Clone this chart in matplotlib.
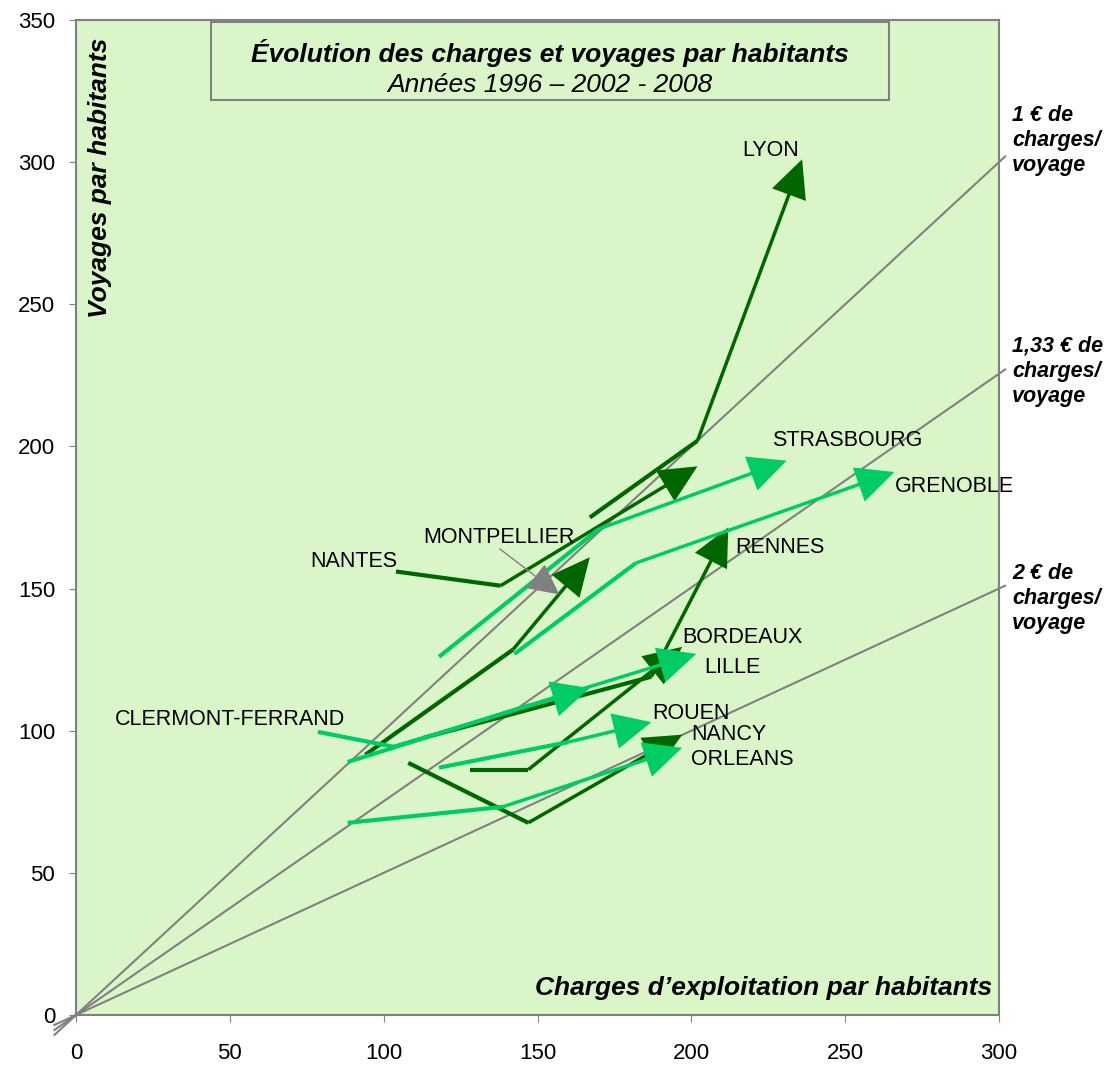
import matplotlib
matplotlib.use("Agg")
import matplotlib.pyplot as plt
from matplotlib.patches import Rectangle

plt.rcParams['font.family'] = ['Liberation Sans', 'DejaVu Sans']

# ---- data: (charges per inhabitant, trips per inhabitant) for 1996, 2002, 2008
cities = ["LYON", "NANTES", "MONTPELLIER", "RENNES", "BORDEAUX", "NANCY",
          "STRASBOURG", "GRENOBLE", "CLERMONT-FERRAND", "LILLE", "ROUEN", "ORLEANS"]
charges = {
    "LYON": [167, 202, 236],
    "NANTES": [104, 138, 202],
    "MONTPELLIER": [94, 142, 167],
    "RENNES": [113, 187, 212],
    "BORDEAUX": [128, 147, 197],
    "NANCY": [108, 147, 197],
    "STRASBOURG": [118, 170, 231],
    "GRENOBLE": [142.5, 182, 266],
    "CLERMONT-FERRAND": [78.6, 103, 167],
    "LILLE": [88.3, 147.4, 201.6],
    "ROUEN": [118, 160, 187],
    "ORLEANS": [88.3, 138.6, 197],
}
voyages = {
    "LYON": [175, 202, 301],
    "NANTES": [156, 151, 193],
    "MONTPELLIER": [91.5, 128.5, 161],
    "RENNES": [97.5, 119, 171.5],
    "BORDEAUX": [86.3, 86.3, 129.5],
    "NANCY": [88.7, 67.6, 98.6],
    "STRASBOURG": [126, 171, 195],
    "GRENOBLE": [127, 159, 191],
    "CLERMONT-FERRAND": [99.6, 94.4, 115],
    "LILLE": [89, 109, 127],
    "ROUEN": [87, 96, 103],
    "ORLEANS": [67.6, 73.2, 94],
}
dark_cities = ["LYON", "NANTES", "MONTPELLIER", "RENNES", "BORDEAUX", "NANCY"]
label_pos = {
    "LYON": (216.6, 304),
    "STRASBOURG": (226.3, 202),
    "GRENOBLE": (266.2, 186),
    "RENNES": (214.3, 164.4),
    "NANTES": (76.3, 159.5),
    "MONTPELLIER": (113, 168),
    "BORDEAUX": (197.1, 132.7),
    "LILLE": (204.2, 122.2),
    "CLERMONT-FERRAND": (12.7, 103.9),
    "ROUEN": (187.3, 106),
    "NANCY": (200, 98.6),
    "ORLEANS": (200, 89.8),
}
cost_per_trip = [1.0, 1.33, 2.0]
cost_labels = ["1 € de\ncharges/\nvoyage", "1,33 € de\ncharges/\nvoyage", "2 € de\ncharges/\nvoyage"]
x_ticks = [0, 50, 100, 150, 200, 250, 300]
y_ticks = [0, 50, 100, 150, 200, 250, 300, 350]

DARK = "#006600"
LIGHT = "#00CC66"
GRAY = "#808080"
BG = "#DAF6C8"

fig = plt.figure(figsize=(11.08, 10.69), dpi=100)
ax = fig.add_axes([76/1108, 54/1069, 923/1108, 995/1069])
ax.set_facecolor(BG)
ax.set_xlim(0, 300)
ax.set_ylim(0, 350)
ax.set_xticks(x_ticks)
ax.set_yticks(y_ticks)
ax.tick_params(labelsize=16, direction='out', length=5, color=GRAY)
ax.tick_params(axis='x', pad=15)
ax.tick_params(axis='y', pad=10)
for s in ax.spines.values():
    s.set_color(GRAY)
    s.set_linewidth(1.5)

# reference cost lines
for c in cost_per_trip:
    xs = [-7, 302]
    ax.plot(xs, [x / c for x in xs], color=GRAY, lw=1.5, clip_on=False, zorder=2)

# city trajectories
for city in cities:
    col = DARK if city in dark_cities else LIGHT
    xs = charges[city]
    ys = voyages[city]
    ax.plot(xs[:2], ys[:2], color=col, lw=3, solid_capstyle='butt',
            solid_joinstyle='miter', zorder=3)
    ax.annotate("", xy=(xs[2], ys[2]), xytext=(xs[1], ys[1]),
                arrowprops=dict(arrowstyle='-|>,head_length=1.15,head_width=0.55',
                                mutation_scale=20, lw=2.5, color=col,
                                joinstyle='miter', capstyle='butt',
                                shrinkA=0, shrinkB=0), zorder=3)
    lx, ly = label_pos[city]
    ax.text(lx, ly, city, fontsize=15.5, ha='left', va='center', zorder=5)

# Montpellier pointer
ax.annotate("", xy=(157.1, 147.9), xytext=(137.7, 164),
            arrowprops=dict(arrowstyle='-|>,head_length=1.0,head_width=0.5',
                            mutation_scale=20, lw=1, color=GRAY,
                            joinstyle='miter', shrinkA=0, shrinkB=0), zorder=4)

# title box
ax.add_patch(Rectangle((135/923, 915/995), 678/923, 78/995, transform=ax.transAxes,
                       facecolor=BG, edgecolor=GRAY, lw=1.5, zorder=6, clip_on=False))
ax.text(0.5135, 0.967, "Évolution des charges et voyages par habitants",
        transform=ax.transAxes, ha='center', va='center', fontsize=19,
        fontweight='bold', fontstyle='italic', zorder=7)
ax.text(0.5135, 0.935, "Années 1996 – 2002 - 2008",
        transform=ax.transAxes, ha='center', va='center', fontsize=19,
        fontstyle='italic', zorder=7)

# axis labels inside the plot
ax.text(0.026, 0.841, "Voyages par habitants", transform=ax.transAxes,
        rotation=90, ha='center', va='center', fontsize=19,
        fontweight='bold', fontstyle='italic', zorder=7)
ax.text(0.9924, 0.027, "Charges d’exploitation par habitants", transform=ax.transAxes,
        ha='right', va='center', fontsize=19,
        fontweight='bold', fontstyle='italic', zorder=7)

# cost line labels
for lab, yf in zip(cost_labels, [0.879, 0.647, 0.419]):
    ax.text(1.014, yf, lab, transform=ax.transAxes, ha='left', va='center',
            fontsize=15.5, fontweight='bold', fontstyle='italic', linespacing=1.25)

fig.savefig("out.png", dpi=100)
